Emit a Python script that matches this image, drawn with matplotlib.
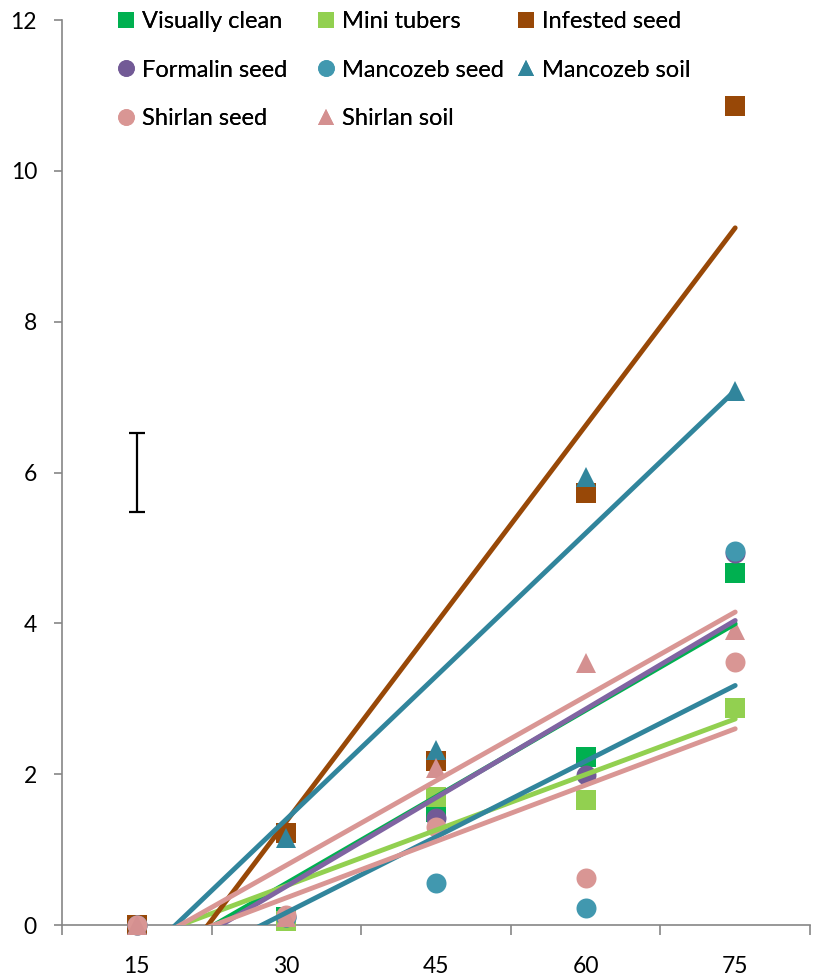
import numpy as np
import matplotlib
matplotlib.use("Agg")
import matplotlib.pyplot as plt
from matplotlib.lines import Line2D

# Days after planting (category axis) and measured values per treatment
days = ["15", "30", "45", "60", "75"]
visually_clean = [0.0, 0.10, 1.50, 2.23, 4.67]
mini_tubers = [0.0, 0.05, 1.70, 1.66, 2.88]
infested_seed = [0.0, 1.22, 2.18, 5.73, 10.86]
formalin_seed = [0.0, 0.10, 1.42, 1.99, 4.93]
mancozeb_seed = [0.0, 0.10, 0.56, 0.22, 4.96]
mancozeb_soil = [0.0, 1.15, 2.32, 5.94, 7.08]
shirlan_seed = [0.0, 0.13, 1.30, 0.62, 3.49]
shirlan_soil = [0.0, 0.10, 2.08, 3.47, 3.91]

# LSD bar drawn at the first category
lsd_center = 6.0
lsd_half = 0.53

y_ticks = [0, 2, 4, 6, 8, 10, 12]

series = [
    ("Visually clean", visually_clean, "s", "#00B050", "#00B050"),
    ("Mini tubers", mini_tubers, "s", "#92D050", "#92D050"),
    ("Infested seed", infested_seed, "s", "#984807", "#984807"),
    ("Formalin seed", formalin_seed, "o", "#725A96", "#8064A2"),
    ("Mancozeb seed", mancozeb_seed, "o", "#4198AF", "#31859C"),
    ("Mancozeb soil", mancozeb_soil, "^", "#31859C", "#31859C"),
    ("Shirlan seed", shirlan_seed, "o", "#D99694", "#D99694"),
    ("Shirlan soil", shirlan_soil, "^", "#D49090", "#D99694"),
]

plt.rcParams["font.family"] = ["Lato", "DejaVu Sans"]

fig = plt.figure(figsize=(8.17, 9.80), dpi=100)
ax = fig.add_axes([62 / 817, 55 / 980, (810 - 62) / 817, (925 - 20) / 980])

x = np.arange(1, len(days) + 1)

# markers
for name, vals, mk, mcol, lcol in series:
    ax.plot(x, vals, linestyle="none", marker=mk, markersize=14.4,
            markerfacecolor=mcol, markeredgecolor=mcol, markeredgewidth=0,
            clip_on=False, zorder=3)

# linear trend lines
for name, vals, mk, mcol, lcol in series:
    slope, intercept = np.polyfit(x, vals, 1)
    xs = np.array([x[0], x[-1]], dtype=float)
    ax.plot(xs, slope * xs + intercept, color=lcol, linewidth=3.5,
            solid_capstyle="round", zorder=4)

# error bar
ax.errorbar([1], [lsd_center], yerr=[lsd_half], fmt="none", ecolor="black",
            elinewidth=1.6, capsize=6, capthick=1.6, zorder=5)

ax.set_xlim(0.5, len(days) + 0.5)
ax.set_ylim(0, 12)
ax.set_yticks(y_ticks)
ax.set_yticklabels([str(v) for v in y_ticks])
ax.set_xticks(np.arange(0.5, len(days) + 1, 1.0))
ax.set_xticklabels([])
ax.set_xticks(x, minor=True)
ax.set_xticklabels(days, minor=True)

grey = "#868686"
for side in ("top", "right"):
    ax.spines[side].set_visible(False)
for side in ("left", "bottom"):
    ax.spines[side].set_color(grey)
    ax.spines[side].set_linewidth(1.2)
ax.tick_params(axis="y", which="major", direction="out", length=6, width=1.2,
               color=grey, labelsize=16.5, pad=12, labelcolor="black")
ax.tick_params(axis="x", which="major", direction="out", length=7, width=1.2,
               color=grey)
ax.tick_params(axis="x", which="minor", length=0, labelsize=16.5, pad=22,
               labelcolor="black")

# legend laid out in three fixed-width columns, filled row by row
handles = [Line2D([], [], linestyle="none", marker=mk, markersize=12,
                  markerfacecolor=mcol, markeredgewidth=0)
           for name, vals, mk, mcol, lcol in series]
labels = [s[0] for s in series]
col_left = [114, 314, 514]
for c in range(3):
    idx = list(range(c, len(series), 3))
    leg = fig.legend([handles[i] for i in idx], [labels[i] for i in idx],
                     loc="upper left",
                     bbox_to_anchor=(col_left[c] / 817, 1 - 11 / 980),
                     frameon=False, fontsize=17, handlelength=1.0,
                     handletextpad=0.2, labelspacing=1.17, borderpad=0,
                     borderaxespad=0)
    fig.add_artist(leg)

fig.savefig("out.png", dpi=100)
